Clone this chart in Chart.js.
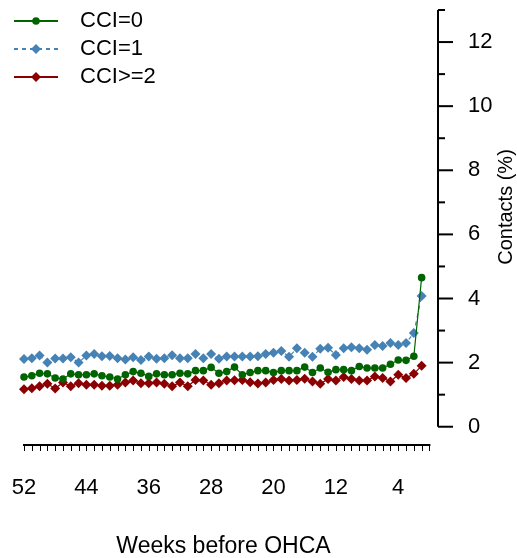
<!DOCTYPE html>
<html>
<head>
<meta charset="utf-8">
<script src="https://cdn.jsdelivr.net/npm/chart.js@4"></script>
<style>
  html, body { margin: 0; padding: 0; background: #fff; }
  #wrap { width: 517px; height: 558px; }
</style>
</head>
<body>
<div id="wrap"><canvas id="contactsChart" width="517" height="558"></canvas></div>
<script>
// weeks before OHCA (x), one value per week
const weeks = [52, 51, 50, 49, 48, 47, 46, 45, 44, 43, 42, 41, 40, 39, 38, 37, 36, 35,
               34, 33, 32, 31, 30, 29, 28, 27, 26, 25, 24, 23, 22, 21, 20, 19, 18, 17,
               16, 15, 14, 13, 12, 11, 10, 9, 8, 7, 6, 5, 4, 3, 2, 1];

// contacts (%) per group
const cci0 = [1.55, 1.59, 1.67, 1.65, 1.52, 1.49, 1.65, 1.62, 1.62, 1.65, 1.59, 1.55, 1.49, 1.62, 1.72, 1.67, 1.57, 1.65,
              1.62, 1.62, 1.67, 1.65, 1.75, 1.75, 1.85, 1.67, 1.72, 1.86, 1.62, 1.69, 1.75, 1.75, 1.69, 1.75, 1.75, 1.75,
              1.86, 1.69, 1.83, 1.70, 1.78, 1.78, 1.75, 1.88, 1.83, 1.83, 1.83, 1.95, 2.08, 2.07, 2.20, 4.65];
const cci1 = [2.11, 2.14, 2.22, 2.00, 2.13, 2.13, 2.17, 2.00, 2.22, 2.27, 2.20, 2.21, 2.14, 2.10, 2.17, 2.08, 2.19, 2.12,
              2.14, 2.23, 2.14, 2.14, 2.27, 2.14, 2.27, 2.12, 2.19, 2.19, 2.19, 2.19, 2.20, 2.27, 2.31, 2.36, 2.18, 2.45,
              2.31, 2.18, 2.43, 2.46, 2.24, 2.45, 2.48, 2.45, 2.40, 2.55, 2.52, 2.61, 2.55, 2.61, 2.92, 4.08];
const cci2 = [1.17, 1.20, 1.26, 1.34, 1.19, 1.38, 1.26, 1.36, 1.31, 1.31, 1.28, 1.28, 1.31, 1.38, 1.44, 1.36, 1.36, 1.38,
              1.34, 1.26, 1.38, 1.26, 1.46, 1.44, 1.31, 1.36, 1.44, 1.45, 1.46, 1.39, 1.35, 1.38, 1.46, 1.49, 1.44, 1.46,
              1.50, 1.41, 1.34, 1.49, 1.44, 1.55, 1.49, 1.44, 1.44, 1.57, 1.52, 1.41, 1.62, 1.52, 1.65, 1.90];

const seriesLabels = ['CCI=0', 'CCI=1', 'CCI>=2'];

// axis ticks
const xTickLabels = [52, 44, 36, 28, 20, 12, 4];
const xTickMarks = [52, 51, 50, 49, 48, 47, 46, 45, 44, 43, 42, 41, 40, 39, 38, 37, 36, 35, 34, 33, 32, 31, 30,
                    29, 28, 27, 26, 25, 24, 23, 22, 21, 20, 19, 18, 17, 16, 15, 14, 13, 12, 11, 10, 9, 8, 7,
                    6, 5, 4, 3, 2, 1, 0];
const yTickLabels = [0, 2, 4, 6, 8, 10, 12];
const yTickMarks = [0, 1, 2, 3, 4, 5, 6, 7, 8, 9, 10, 11, 12, 13];

const xTitle = 'Weeks before OHCA';
const yTitle = 'Contacts (%)';

const FONT = "'Liberation Sans', Arial, sans-serif";

function toPoints(values) {
    return weeks.map((w, i) => ({ x: w, y: values[i] }));
}

// axis lines, tick marks, titles and legend, drawn R style
const baseAxes = {
    id: 'baseAxes',
    afterDraw(chart) {
        const ctx = chart.ctx;
        const xs = chart.scales.x;
        const ys = chart.scales.y;
        const area = chart.chartArea;
        ctx.save();
        ctx.strokeStyle = '#000';

        // y axis on the right
        const yx = area.right;
        ctx.lineWidth = 2;
        ctx.beginPath();
        ctx.moveTo(yx, ys.getPixelForValue(yTickMarks[0]));
        ctx.lineTo(yx, ys.getPixelForValue(yTickMarks[yTickMarks.length - 1]));
        ctx.stroke();
        yTickMarks.forEach(v => {
            const py = ys.getPixelForValue(v);
            const len = yTickLabels.includes(v) ? 15 : 7;
            ctx.beginPath();
            ctx.moveTo(yx, py);
            ctx.lineTo(yx + len, py);
            ctx.stroke();
        });

        // x axis below
        const xy = area.bottom;
        ctx.lineWidth = 2;
        ctx.beginPath();
        ctx.moveTo(xs.getPixelForValue(xTickMarks[0]) - 1, xy);
        ctx.lineTo(xs.getPixelForValue(xTickMarks[xTickMarks.length - 1]) + 1, xy);
        ctx.stroke();
        ctx.lineWidth = 1;
        xTickMarks.forEach(v => {
            const px = Math.round(xs.getPixelForValue(v)) + 0.5;
            ctx.beginPath();
            ctx.moveTo(px, xy);
            ctx.lineTo(px, xy + 6);
            ctx.stroke();
        });

        // titles
        ctx.fillStyle = '#000';
        ctx.font = '23px ' + FONT;
        ctx.textAlign = 'center';
        ctx.textBaseline = 'alphabetic';
        ctx.fillText(xTitle, area.left + 199.5, chart.height - 5.5);

        ctx.save();
        ctx.translate(area.right + 68, area.top + 197);
        ctx.rotate(-Math.PI / 2);
        ctx.font = '20px ' + FONT;
        ctx.textBaseline = 'middle';
        ctx.fillText(yTitle, 0, 0);
        ctx.restore();

        // legend: line with marker, then label
        ctx.font = '22px ' + FONT;
        ctx.textAlign = 'left';
        ctx.textBaseline = 'middle';
        chart.data.datasets.forEach((ds, i) => {
            const cy = 21 + i * 28;
            const x0 = area.left - 10;
            ctx.save();
            ctx.strokeStyle = ds.borderColor;
            ctx.lineWidth = 2;
            ctx.setLineDash(ds.borderDash || []);
            ctx.beginPath();
            ctx.moveTo(x0, cy);
            ctx.lineTo(x0 + 44, cy);
            ctx.stroke();
            ctx.setLineDash([]);
            ctx.fillStyle = ds.pointBackgroundColor;
            ctx.strokeStyle = ds.pointBackgroundColor;
            Chart.helpers.drawPoint(ctx, {
                pointStyle: ds.pointStyle,
                radius: ds.pointRadius,
                rotation: 0,
                borderWidth: 0
            }, x0 + 22, cy);
            ctx.restore();
            ctx.fillStyle = '#000';
            ctx.fillText(ds.label, x0 + 66, cy);
        });
        ctx.restore();
    }
};

const ctx = document.getElementById('contactsChart').getContext('2d');
const contactsChart = new Chart(ctx, {
    type: 'line',
    data: {
        datasets: [
            {
                label: seriesLabels[0],
                data: toPoints(cci0),
                borderColor: '#006400',
                pointBackgroundColor: '#006400',
                pointBorderColor: '#006400',
                pointStyle: 'circle',
                pointRadius: 3.8,
                borderWidth: 1.2,
                pointBorderWidth: 0
            },
            {
                label: seriesLabels[1],
                data: toPoints(cci1),
                borderColor: '#4682B4',
                pointBackgroundColor: '#4682B4',
                pointBorderColor: '#4682B4',
                pointStyle: 'rectRot',
                pointRadius: 5,
                borderWidth: 1.2,
                borderDash: [4, 4],
                pointBorderWidth: 0
            },
            {
                label: seriesLabels[2],
                data: toPoints(cci2),
                borderColor: '#8B0000',
                pointBackgroundColor: '#8B0000',
                pointBorderColor: '#8B0000',
                pointStyle: 'rectRot',
                pointRadius: 5,
                borderWidth: 1.2,
                pointBorderWidth: 0
            }
        ]
    },
    options: {
        responsive: false,
        animation: false,
        clip: false,
        layout: { padding: { left: 24, top: 10, right: 0, bottom: 0 } },
        elements: { line: { tension: 0 } },
        plugins: {
            legend: { display: false },
            tooltip: { enabled: false }
        },
        scales: {
            x: {
                type: 'linear',
                reverse: true,
                min: -1.1,
                max: 52,
                grid: { display: false, drawTicks: false },
                border: { display: false },
                afterBuildTicks: scale => { scale.ticks = xTickLabels.map(v => ({ value: v })); },
                afterFit: scale => {
                    scale.height = 113;
                    scale.paddingLeft = 0;
                    scale.paddingRight = 0;
                },
                ticks: {
                    autoSkip: false,
                    maxRotation: 0,
                    padding: 30,
                    color: '#000',
                    font: { family: FONT, size: 22 }
                }
            },
            y: {
                position: 'right',
                min: -0.57,
                max: 13,
                grid: { display: false, drawTicks: false },
                border: { display: false },
                afterBuildTicks: scale => { scale.ticks = yTickLabels.map(v => ({ value: v })); },
                afterFit: scale => {
                    scale.width = 79;
                    scale.paddingTop = 0;
                    scale.paddingBottom = 0;
                },
                ticks: {
                    padding: 30,
                    color: '#000',
                    font: { family: FONT, size: 22 }
                }
            }
        }
    },
    plugins: [baseAxes]
});
</script>
</body>
</html>
